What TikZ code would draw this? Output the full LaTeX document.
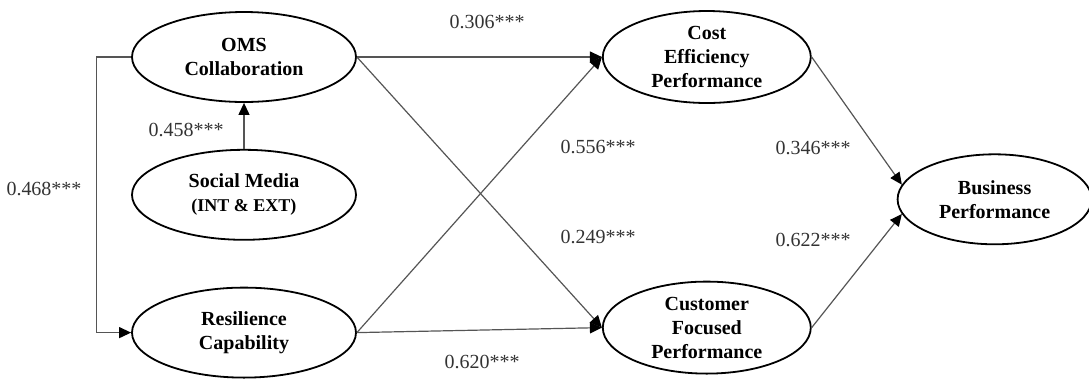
\documentclass[tikz,border=0pt]{standalone}
\usepackage{fontspec}
\setmainfont{Liberation Serif}
\usetikzlibrary{positioning, shapes.geometric, arrows.meta, calc}
\definecolor{linecol}{RGB}{85, 85, 85}
\tikzset{
  construct/.style={draw, ellipse, line width=0.9pt, inner sep=0pt, minimum width=112pt,
                    minimum height=45pt, align=center, font=\bfseries},
  link/.style={-{Triangle[length=6pt, width=5.5pt, color=black]}, draw=linecol, line width=0.6pt},
  coef/.style={text=black!80, inner sep=1pt},
}

\begin{document}
\begin{tikzpicture}[node distance=23pt]
  \useasboundingbox (0,0) rectangle (544.5pt,-191pt);

  % antecedents on the left
  \node[construct] (oms) at (122pt,-28.5pt) {OMS\\Collaboration};
  \node[construct, below=of oms] (soc) {Social Media\\{\small (INT \& EXT)}};
  \node[construct, below=of soc] (res) {Resilience\\Capability};

  % performance outcomes
  \node[construct, minimum width=104pt, minimum height=46pt, right=122.5pt of oms] (cost) {Cost\\Efficiency\\Performance};
  \node[construct, minimum width=104pt, minimum height=46pt, right=122.5pt of res, yshift=2.5pt] (cust) {Customer\\Focused\\Performance};
  \node[construct, minimum width=97pt, anchor=west] (bus)
    at ($(cost.east)!0.5!(cust.east)+(42.5pt,-3.5pt)$) {Business\\Performance};

  \draw[link] (oms.west) -- ++(-17.5pt,0) |- (res.west);
  \draw[link] (soc) -- (oms);
  \draw[link] (oms.east) -- (cost.west);
  \draw[link] (oms.east) -- (cust.west);
  \draw[link] (res.east) -- (cost.west);
  \draw[link] (res.east) -- (cust.west);
  \draw[link] (cost.east) -- (bus.171);
  \draw[link] (cust.east) -- (bus.189);

  % path coefficients
  \node[coef] (k1) at (243.5pt,-11pt) {0.306***};
  \node[coef] (k2) at (93pt,-65pt) {0.458***};
  \node[coef] (k3) at (22pt,-94.5pt) {0.468***};
  \node[coef] (k4) at (299pt,-73.5pt) {0.556***};
  \node[coef] (k5) at (299pt,-118.5pt) {0.249***};
  \node[coef] (k6) at (241pt,-181pt) {0.620***};
  \node[coef] (k7) at (406.5pt,-74pt) {0.346***};
  \node[coef] (k8) at (406.5pt,-120pt) {0.622***};
\end{tikzpicture}
\end{document}
